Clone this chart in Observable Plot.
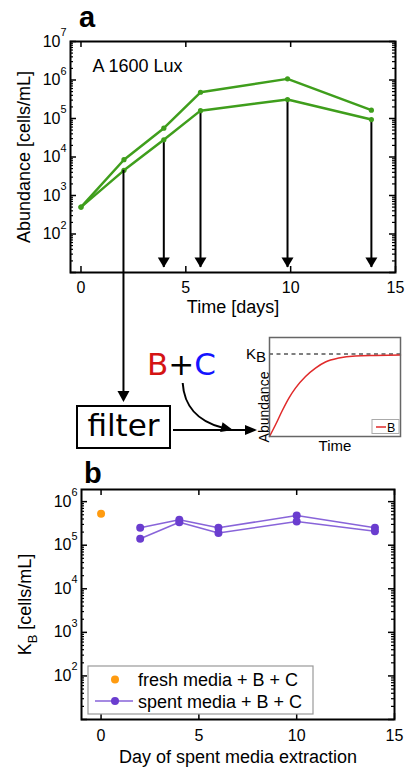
<!DOCTYPE html>
<html>
<head>
<meta charset="utf-8">
<script src="https://cdn.jsdelivr.net/npm/d3@7"></script>
<script src="https://cdn.jsdelivr.net/npm/@observablehq/plot@0.6"></script>
<style>
  body { margin: 0; background: #fff; }
  #fig { position: relative; width: 406px; height: 770px; overflow: hidden; background: #fff; }
  #fig > svg { position: absolute; }
</style>
</head>
<body>
<div id="fig"></div>
<script>
// ---- Panel a: abundance of culture A under 1600 lux (two replicates) ----
const daysA = [0, 2.05, 3.95, 5.7, 9.85, 13.85];
const abundanceHigh = [500, 8500, 56000, 480000, 1070000, 165000];
const abundanceLow = [500, 4500, 28000, 160000, 310000, 94000];
const arrowTip = 13.5; // abundance level where the sampling arrows end

// ---- Inset: growth of B up to its carrying capacity K_B ----
const insetTime = [0, 0.46, 0.97, 1.48, 1.98, 2.75, 3.51, 4.27, 5.29, 6.56, 8.08, 10];
const insetB = [0, 0.142, 0.312, 0.466, 0.587, 0.728, 0.83, 0.903, 0.951, 0.976, 0.983, 0.988];
const insetK = [1];

// ---- Panel b: carrying capacity of B in fresh and spent media ----
const freshDay = [0];
const freshK = [525000];
const spentDays = [2, 4, 6, 10, 14];
const spentK1 = [252000, 383000, 252000, 480000, 252000];
const spentK2 = [141000, 337000, 190000, 350000, 210000];

// ---- tick values ----
const dayTicks = [0, 5, 10, 15];
const decadesA = [1e1, 1e2, 1e3, 1e4, 1e5, 1e6, 1e7];
const labelsA = [1e2, 1e3, 1e4, 1e5, 1e6, 1e7];
const decadesB = [1e1, 1e2, 1e3, 1e4, 1e5, 1e6];
const labelsB = [1e2, 1e3, 1e4, 1e5, 1e6];
const minorSteps = [2, 3, 4, 5, 6, 7, 8, 9];

const FONT = '"Liberation Sans", Arial, Helvetica, sans-serif';
const GREEN = "#3f9e1c", PURPLE = "#6a3dcf", ORANGE = "#ff9b10", RED = "#e02a2a";
const pow10 = d => `10^{${Math.round(Math.log10(d))}}`;
const centered = {textAnchor: "middle", lineAnchor: "middle"};

// filled arrow head whose tip sits on the data point
const headDown = {
  draw(ctx) { ctx.moveTo(0, 0); ctx.lineTo(-6, -10); ctx.lineTo(6, -10); ctx.closePath(); }
};

// inward ticks on all four sides of a frame (MATLAB style box)
function boxTicks(xt, major, minor, fw, fh) {
  const M = 6, m = 3;
  return [
    Plot.tickX(xt, {insetTop: fh - M, strokeWidth: 1.5}),
    Plot.tickX(xt, {insetBottom: fh - M, strokeWidth: 1.5}),
    Plot.tickY(major, {insetRight: fw - M, strokeWidth: 1.5}),
    Plot.tickY(major, {insetLeft: fw - M, strokeWidth: 1.5}),
    Plot.tickY(minor, {insetRight: fw - m, strokeWidth: 1.2}),
    Plot.tickY(minor, {insetLeft: fw - m, strokeWidth: 1.2})
  ];
}

// turn ^{..} and _{..} into raised / lowered tspans
function rich(root) {
  for (const el of root.querySelectorAll("text")) {
    const s = el.textContent;
    if (!/[\^_]\{/.test(s)) continue;
    const fs = parseFloat(getComputedStyle(el).fontSize);
    el.textContent = "";
    let offset = 0;
    for (const p of s.split(/([\^_]\{[^}]*\})/).filter(p => p)) {
      const ts = document.createElementNS("http://www.w3.org/2000/svg", "tspan");
      let shift = 0;
      if (p.startsWith("^{")) { shift = -0.66 * fs; ts.setAttribute("font-size", 0.68 * fs); ts.textContent = p.slice(2, -1); }
      else if (p.startsWith("_{")) { shift = 0.3 * fs; ts.setAttribute("font-size", 0.72 * fs); ts.textContent = p.slice(2, -1); }
      else ts.textContent = p;
      if (shift - offset) ts.setAttribute("dy", shift - offset);
      offset = shift;
      el.appendChild(ts);
    }
  }
}

const fig = document.getElementById("fig");

// ---------------- panel a ----------------
const rowsA = daysA.flatMap((d, i) => [
  {day: d, value: abundanceHigh[i], rep: "high"},
  {day: d, value: abundanceLow[i], rep: "low"}
]);
const sampled = daysA.map((d, i) => ({day: d, value: abundanceLow[i], tip: arrowTip})).slice(2);
const minorA = decadesA.slice(0, -1).flatMap(d => minorSteps.map(k => k * d));

const plotA = Plot.plot({
  width: 406, height: 320,
  marginTop: 41, marginBottom: 48, marginLeft: 70, marginRight: 11,
  x: {domain: [-0.5, 15]},
  y: {type: "log", domain: [10, 1e7]},
  style: {fontFamily: FONT, background: "transparent", color: "black"},
  marks: [
    ...boxTicks(dayTicks, decadesA, minorA, 325, 231),
    Plot.axisX(dayTicks, {anchor: "bottom", tickSize: 0, tickPadding: 9, fontSize: 16, label: null}),
    Plot.axisY(labelsA, {anchor: "left", tickSize: 0, tickPadding: 4, fontSize: 16, tickFormat: pow10, label: null}),
    Plot.ruleX(sampled, {x: "day", y1: "value", y2: "tip", strokeWidth: 2}),
    Plot.dot(sampled, {x: "day", y: "tip", symbol: headDown, fill: "black", stroke: "none"}),
    Plot.line(rowsA, {x: "day", y: "value", z: "rep", stroke: GREEN, strokeWidth: 2.5}),
    Plot.dot(rowsA, {x: "day", y: "value", r: 2.6, fill: GREEN}),
    Plot.text(["A 1600 Lux"], {frameAnchor: "top-left", dx: 22, dy: 25, textAnchor: "start", lineAnchor: "middle", fontSize: 18}),
    Plot.text(["Time [days]"], {frameAnchor: "bottom", dy: 35, ...centered, fontSize: 18}),
    Plot.text(["Abundance [cells/mL]"], {frameAnchor: "left", dx: -46, rotate: -90, ...centered, fontSize: 18}),
    Plot.frame({strokeWidth: 2})
  ]
});
plotA.style.left = "0px"; plotA.style.top = "0px";
fig.appendChild(plotA);

// ---------------- inset ----------------
const insetRows = insetTime.map((t, i) => ({t, b: insetB[i]}));
const inset = Plot.plot({
  width: 176, height: 125,
  marginTop: 7, marginBottom: 19, marginLeft: 39, marginRight: 6,
  x: {domain: [0, 10], axis: null},
  y: {domain: [0, 1.2], axis: null},
  style: {fontFamily: FONT, background: "transparent", color: "black"},
  marks: [
    Plot.ruleY(insetK, {strokeDasharray: "4,3.5", strokeWidth: 1.2}),
    Plot.line(insetRows, {x: "t", y: "b", stroke: RED, strokeWidth: 1.5, curve: "monotone-x"}),
    Plot.text(["Time"], {frameAnchor: "bottom", dy: 9.5, ...centered, fontSize: 15}),
    Plot.text(["Abundance"], {frameAnchor: "left", dx: -5, dy: 20, rotate: -90, ...centered, fontSize: 14}),
    Plot.frame({stroke: "#666", strokeWidth: 1.5})
  ]
});
inset.style.left = "230px"; inset.style.top = "330px";
fig.appendChild(inset);

// ---------------- panel b ----------------
const spentRows = spentDays.flatMap((d, i) => [
  {day: d, k: spentK1[i], rep: 1},
  {day: d, k: spentK2[i], rep: 2}
]);
const freshRows = freshDay.map((d, i) => ({day: d, k: freshK[i]}));
const yMaxB = 1.9e6;
const minorB = decadesB.flatMap(d => minorSteps.map(k => k * d)).filter(v => v <= yMaxB);

const plotB = Plot.plot({
  width: 406, height: 315,
  marginTop: 34, marginBottom: 51, marginLeft: 81, marginRight: 12,
  x: {domain: [-1, 15]},
  y: {type: "log", domain: [10, yMaxB]},
  style: {fontFamily: FONT, background: "transparent", color: "black"},
  marks: [
    ...boxTicks(dayTicks, decadesB, minorB, 313, 230),
    Plot.axisX(dayTicks, {anchor: "bottom", tickSize: 0, tickPadding: 10, fontSize: 16, label: null}),
    Plot.axisY(labelsB, {anchor: "left", tickSize: 0, tickPadding: 4, fontSize: 16, tickFormat: pow10, label: null}),
    Plot.line(spentRows, {x: "day", y: "k", z: "rep", stroke: PURPLE, strokeWidth: 1.5, strokeOpacity: 0.8}),
    Plot.dot(spentRows, {x: "day", y: "k", r: 4, fill: PURPLE}),
    Plot.dot(freshRows, {x: "day", y: "k", r: 4, fill: ORANGE}),
    Plot.text(["Day of spent media extraction"], {frameAnchor: "bottom", dy: 38, ...centered, fontSize: 18}),
    Plot.text(["K_{B} [cells/mL]"], {frameAnchor: "left", dx: -56, rotate: -90, ...centered, fontSize: 18}),
    Plot.frame({strokeWidth: 2})
  ]
});
plotB.style.left = "0px"; plotB.style.top = "455px";
fig.appendChild(plotB);

rich(plotA); rich(plotB);

// ---------------- schematic layer: panel letters, filter step, arrows, legends ----------------
const svg = d3.create("svg").attr("width", 406).attr("height", 770)
  .style("left", "0px").style("top", "0px").style("pointer-events", "none");

function head(tip, dir, len = 12, half = 5.5) {
  const n = Math.hypot(dir[0], dir[1]);
  const u = [dir[0] / n, dir[1] / n], p = [-u[1], u[0]];
  const b = [tip[0] - len * u[0], tip[1] - len * u[1]];
  svg.append("path").attr("fill", "black")
    .attr("d", `M${tip}L${b[0] + half * p[0]},${b[1] + half * p[1]}L${b[0] - half * p[0]},${b[1] - half * p[1]}Z`);
}

svg.append("text").attr("x", 79).attr("y", 27).attr("font-family", FONT)
  .attr("font-weight", "bold").attr("font-size", 29).text("a");
svg.append("text").attr("x", 84).attr("y", 483).attr("font-family", FONT)
  .attr("font-weight", "bold").attr("font-size", 29).text("b");

// sampling on day 2 goes on to the filter
const sx = plotA.scale("x").apply(daysA[1]);
const sy = plotA.scale("y").apply(abundanceLow[1]);
svg.append("line").attr("x1", sx).attr("x2", sx).attr("y1", sy).attr("y2", 392)
  .attr("stroke", "black").attr("stroke-width", 2);
head([sx, 402], [0, 1], 11, 6);

// filter box
svg.append("rect").attr("x", 77).attr("y", 406).attr("width", 93).attr("height", 42)
  .attr("fill", "white").attr("stroke", "black").attr("stroke-width", 2);
svg.append("text").attr("x", 123.5).attr("y", 436).attr("text-anchor", "middle")
  .attr("font-family", '"DejaVu Sans", sans-serif').attr("font-size", 31).text("filter");

// B + C
const bc = svg.append("text").attr("x", 147).attr("y", 375)
  .attr("font-family", '"DejaVu Sans", sans-serif').attr("font-size", 31);
bc.append("tspan").attr("fill", "#d41414").text("B");
bc.append("tspan").attr("fill", "black").text("+");
bc.append("tspan").attr("fill", "#1414ff").text("C");

// arrows into the growth assay
svg.append("path").attr("d", "M182.7,383 C184,405 197,421 222,427.5")
  .attr("fill", "none").attr("stroke", "black").attr("stroke-width", 2);
head([233, 430], [20, 5], 12, 5);
svg.append("line").attr("x1", 173).attr("x2", 245).attr("y1", 430).attr("y2", 430)
  .attr("stroke", "black").attr("stroke-width", 2);
head([257, 430], [1, 0], 12, 5);

// K_B label of the inset
const ky = 330 + inset.scale("y").apply(insetK[0]);
const kb = svg.append("text").attr("x", 266).attr("y", ky + 5.5).attr("text-anchor", "end")
  .attr("font-family", FONT).attr("font-size", 15);
kb.append("tspan").text("K");
kb.append("tspan").attr("dy", 3.4).text("B");

// inset legend
svg.append("rect").attr("x", 372).attr("y", 419.5).attr("width", 27).attr("height", 14)
  .attr("fill", "white").attr("stroke", "#aaa").attr("stroke-width", 1);
svg.append("line").attr("x1", 376).attr("x2", 386).attr("y1", 427).attr("y2", 427)
  .attr("stroke", RED).attr("stroke-width", 1.5);
svg.append("text").attr("x", 387).attr("y", 431.5).attr("font-family", FONT)
  .attr("font-size", 12.5).text("B");

// panel b legend
svg.append("rect").attr("x", 88).attr("y", 666).attr("width", 225).attr("height", 48)
  .attr("fill", "white").attr("stroke", "#999").attr("stroke-width", 1.2);
svg.append("circle").attr("cx", 115).attr("cy", 679.5).attr("r", 4).attr("fill", ORANGE);
svg.append("line").attr("x1", 95).attr("x2", 133).attr("y1", 701).attr("y2", 701)
  .attr("stroke", PURPLE).attr("stroke-width", 1.5).attr("stroke-opacity", 0.8);
svg.append("circle").attr("cx", 115).attr("cy", 701).attr("r", 4).attr("fill", PURPLE);
svg.append("text").attr("x", 138).attr("y", 686).attr("font-family", FONT)
  .attr("font-size", 18).text("fresh media + B + C");
svg.append("text").attr("x", 138).attr("y", 707.5).attr("font-family", FONT)
  .attr("font-size", 18).text("spent media + B + C");

fig.appendChild(svg.node());
</script>
</body>
</html>
